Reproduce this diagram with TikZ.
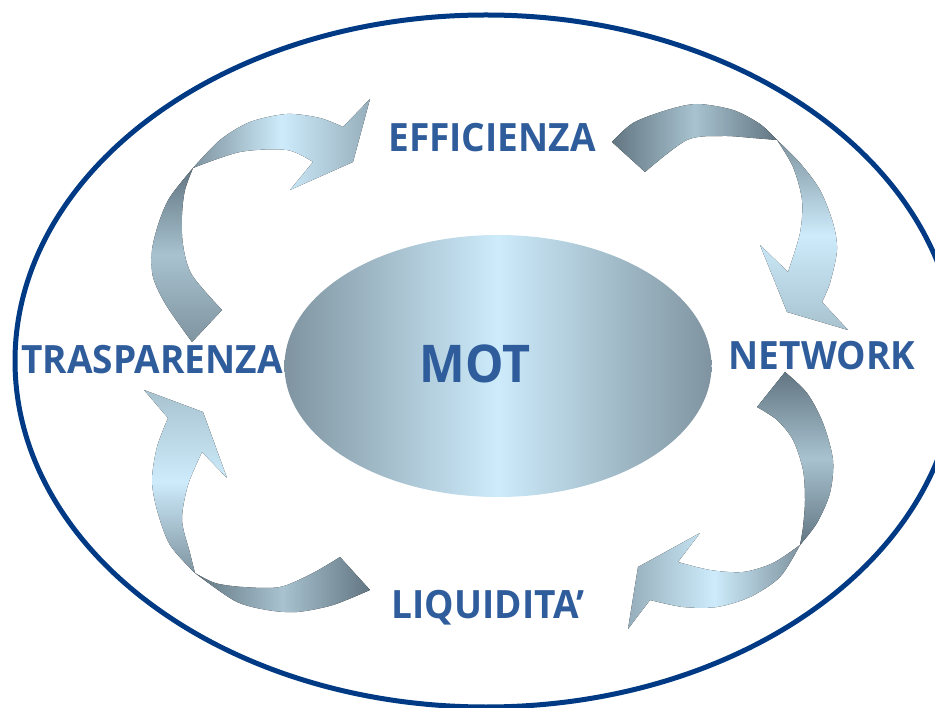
\documentclass[tikz,border=0pt]{standalone}
\usepackage{fontspec}
\setmainfont{Open Sans}
\usetikzlibrary{shapes.geometric}
\definecolor{rimblue}{HTML}{003A84}
\definecolor{txtblue}{HTML}{2F5C9B}
\definecolor{steeldark}{HTML}{627682}
\definecolor{steelmid}{HTML}{7F94A0}
\definecolor{steellight}{HTML}{A8C2CF}
\definecolor{icyblue}{HTML}{CDEBFB}

\begin{document}
\begin{tikzpicture}[x=1pt,y=-1pt]
	\tikzstyle{concept}=[font=\fontsize{39}{39}\selectfont\bfseries,text=txtblue,inner sep=0pt,anchor=base,xscale=0.95,transform shape]
	\tikzstyle{core}=[ellipse,minimum width=427pt,minimum height=262pt,inner sep=0pt,left color=steelmid,right color=steelmid,middle color=icyblue]
	\useasboundingbox (0,0) rectangle (935,708);
	\clip (0,0) rectangle (935,708);
	\draw[rimblue,line width=5pt] (486,361) ellipse [x radius=471,y radius=346];
	\node[core](hub) at (498,366){};
	\node[concept,font=\fontsize{52}{52}\selectfont\bfseries,xscale=0.98](mot) at (475,383){MOT};
	\node[concept](efficienza) at (492,152){EFFICIENZA};
	\node[concept](network) at (822,370){NETWORK};
	\node[concept](liquidita) at (488,618){LIQUIDITA’};
	\node[concept](trasparenza) at (152,374){TRASPARENZA};
	% trasparenza -> efficienza
	\fill[top color=steeldark,bottom color=steelmid,middle color=steellight]
		plot[smooth] coordinates {(192,342) (166,305) (153,277) (152,250) (159,222) (170,197) (193,168)}
		-- plot[smooth] coordinates {(193,168) (185,190) (182,215) (183,245) (192,275) (222,310)} -- cycle;
	\fill[left color=steelmid,right color=steelmid!70!icyblue,middle color=icyblue]
		plot[smooth] coordinates {(193,168) (220,140) (250,122) (287,114) (320,118) (343,127)}
		-- (370,99) -- (353,162) -- (290,190) -- (313,162)
		-- plot[smooth] coordinates {(313,162) (287,150) (240,152) (193,168)} -- cycle;
	% efficienza -> network
	\fill[left color=steeldark,right color=steeldark,middle color=steellight]
		plot[smooth] coordinates {(612,142) (633,123) (667,110) (697,104) (733,110) (760,124) (777,140)}
		-- plot[smooth] coordinates {(777,140) (753,138) (723,136) (687,140) (645,172)} -- cycle;
	\fill[top color=steelmid,bottom color=steellight,middle color=icyblue]
		plot[smooth] coordinates {(777,140) (800,163) (820,190) (833,223) (837,250) (830,283) (822,302)}
		-- (848,330) -- (787,312) -- (760,245) -- (788,272)
		-- plot[smooth] coordinates {(788,272) (800,233) (802,200) (793,167) (777,140)} -- cycle;
	% network -> liquidita
	\fill[top color=steeldark,bottom color=steeldark,middle color=steellight]
		plot[smooth] coordinates {(785,372) (807,393) (823,423) (833,460) (830,493) (817,523) (800,545)}
		-- plot[smooth] coordinates {(800,545) (803,527) (805,500) (803,470) (793,440) (777,420) (757,407)} -- cycle;
	\fill[left color=steelmid!70!icyblue,right color=steelmid,middle color=icyblue]
		plot[smooth] coordinates {(800,545) (780,577) (750,597) (717,607) (683,607) (650,600)}
		-- (628,629) -- (638,567) -- (700,533) -- (678,562)
		-- plot[smooth] coordinates {(678,562) (710,570) (743,572) (773,563) (800,545)} -- cycle;
	% liquidita -> trasparenza
	\fill[left color=steeldark,right color=steeldark,middle color=steellight]
		plot[smooth] coordinates {(370,590) (333,605) (297,612) (267,610) (235,601) (195,573)}
		-- plot[smooth] coordinates {(195,573) (215,583) (243,587) (280,587) (313,573) (340,557)} -- cycle;
	\fill[top color=steellight,bottom color=steelmid,middle color=icyblue]
		plot[smooth] coordinates {(195,573) (170,545) (157,510) (152,480) (157,447) (168,418)}
		-- (144,390) -- (203,412) -- (227,478) -- (202,452)
		-- plot[smooth] coordinates {(202,452) (188,485) (182,520) (190,553) (195,573)} -- cycle;
\end{tikzpicture}
\end{document}
